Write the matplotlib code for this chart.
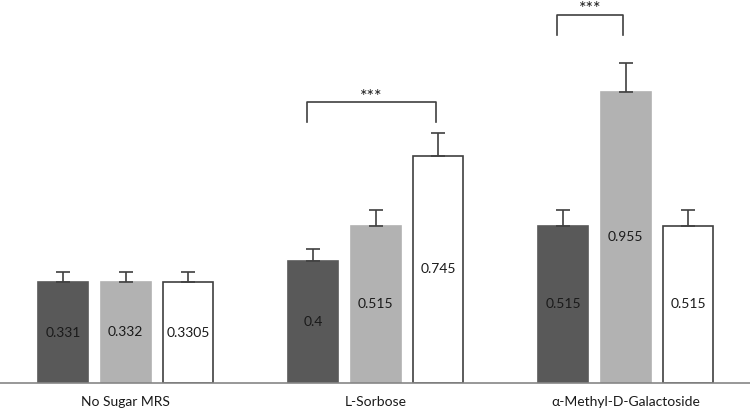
import numpy as np
import matplotlib
matplotlib.use('Agg')
import matplotlib.pyplot as plt

plt.rcParams['font.family'] = ['Lato', 'DejaVu Sans']

categories = ['No Sugar MRS', 'L-Sorbose', 'α-Methyl-D-Galactoside']
series_a = [0.331, 0.4, 0.515]
series_b = [0.332, 0.515, 0.955]
series_c = [0.3305, 0.745, 0.515]
err_a = [0.033, 0.04, 0.0515]
err_b = [0.033, 0.0515, 0.0955]
err_c = [0.033, 0.0745, 0.0515]
labels_a = ['0.331', '0.4', '0.515']
labels_b = ['0.332', '0.515', '0.955']
labels_c = ['0.3305', '0.745', '0.515']

# significance brackets: (group, bar index left, bar index right, bracket y, drop y)
brackets = [(1, 0, 2, 0.92, 0.855), (2, 0, 1, 1.207, 1.14)]

fig = plt.figure(figsize=(7.5, 4.08), dpi=100)
ax = fig.add_axes([0, 25/408, 1, 383/408])

px_per_unit = 305.
ax.set_ylim(0, 383/px_per_unit)
ax.set_xlim(-0.502, 2.498)

x = np.arange(len(categories))
offsets = [-0.25, 0.0, 0.25]
width = 0.2
colors = ['#595959', '#b2b2b2', 'white']
edges = ['#595959', '#b2b2b2', '#404040']

allvals = [series_a, series_b, series_c]
allerr = [err_a, err_b, err_c]
alllab = [labels_a, labels_b, labels_c]

for k in range(3):
    xs = x + offsets[k]
    ax.bar(xs, allvals[k], width, color=colors[k], edgecolor=edges[k],
           linewidth=1.2, zorder=2)
    ax.errorbar(xs, allvals[k], yerr=[np.zeros(3), allerr[k]], fmt='none',
                ecolor='#404040', elinewidth=1.2, capsize=5, capthick=1.2, zorder=3)
    for xi, v, t in zip(xs, allvals[k], alllab[k]):
        ax.text(xi, v/2, t, ha='center', va='center', fontsize=10, color='#1a1a1a', zorder=4)

for g, i0, i1, ytop, ybot in brackets:
    x0 = x[g] + offsets[i0] - 0.025
    x1 = x[g] + offsets[i1] - 0.01
    ax.plot([x0, x0, x1, x1], [ybot, ytop, ytop, ybot], color='#404040', lw=1.2,
            clip_on=False, zorder=3)
    ax.text((x0 + x1)/2, ytop + 0.002, '***', ha='center', va='baseline',
            fontsize=13, color='#1a1a1a', clip_on=False)

for s in ['top', 'right', 'left']:
    ax.spines[s].set_visible(False)
ax.spines['bottom'].set_color('#868686')
ax.spines['bottom'].set_linewidth(1.2)
ax.set_yticks([])
ax.set_xticks(x)
ax.set_xticklabels(categories, fontsize=10, color='#1a1a1a')
ax.tick_params(axis='x', length=0, pad=9)

fig.savefig('out.png', dpi=100)
